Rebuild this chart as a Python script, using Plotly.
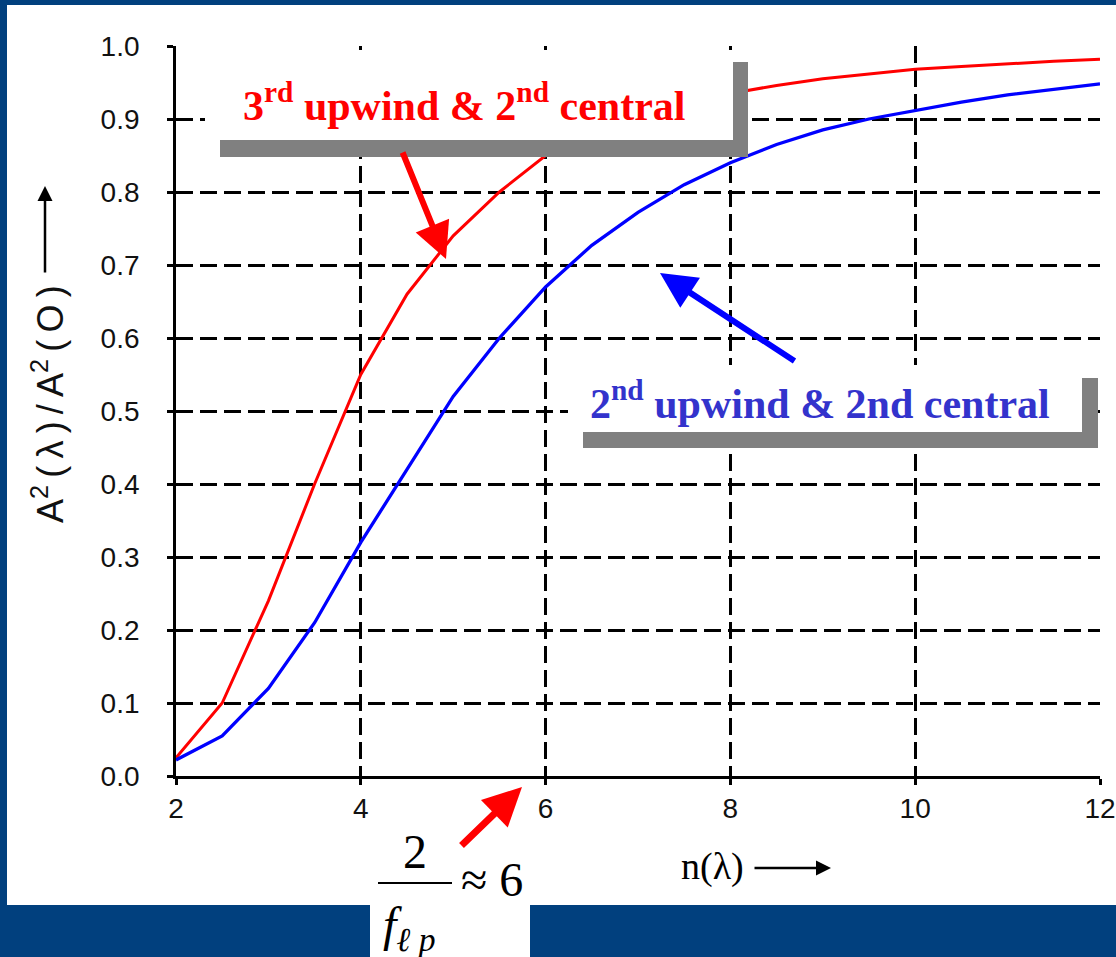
import plotly.graph_objects as go

# ---------------- data ----------------
n_lambda = [2, 2.5, 3, 3.5, 4, 4.5, 5, 5.5, 6, 6.5, 7, 7.5, 8, 8.5, 9, 9.5, 10, 10.5, 11, 11.5, 12]
third_upwind = [0.025, 0.10, 0.24, 0.40, 0.55, 0.66, 0.74, 0.80, 0.85, 0.88, 0.905, 0.922, 0.935,
                0.946, 0.955, 0.962, 0.968, 0.972, 0.976, 0.979, 0.982]
second_upwind = [0.022, 0.055, 0.12, 0.21, 0.32, 0.42, 0.52, 0.60, 0.67, 0.727, 0.772, 0.81, 0.84,
                 0.865, 0.885, 0.90, 0.912, 0.923, 0.933, 0.941, 0.948]
x_ticks = [2, 4, 6, 8, 10, 12]
x_ticktext = ["2", "4", "6", "8", "10", "12"]
y_ticks = [0.0, 0.1, 0.2, 0.3, 0.4, 0.5, 0.6, 0.7, 0.8, 0.9, 1.0]
y_ticktext = ["0.0", "0.1", "0.2", "0.3", "0.4", "0.5", "0.6", "0.7", "0.8", "0.9", "1.0"]

label_red = "3<sup>rd</sup> upwind &amp; 2<sup>nd</sup> central"
label_blue = "2<sup>nd</sup> upwind &amp; 2nd central"

# ---------------- layout geometry (pixels) ----------------
W, H = 1116, 957
L, R, T, B = 176, 1100, 46, 776
PW, PH = R - L, B - T

def xp(px):
    return (px - L) / PW

def yp(py):
    return (B - py) / PH

BLUE_BG = "#01407E"
GRAY = "#808080"
SERIF = "Liberation Serif, Times New Roman, serif"
SANS = "Liberation Sans, Arial, sans-serif"

fig = go.Figure()
fig.add_trace(go.Scatter(x=n_lambda, y=third_upwind, mode="lines",
                         line=dict(color="#FF0000", width=3), showlegend=False))
fig.add_trace(go.Scatter(x=n_lambda, y=second_upwind, mode="lines",
                         line=dict(color="#0000FF", width=3.3), showlegend=False))

shapes = []
# white panel
shapes.append(dict(type="rect", xref="paper", yref="paper", layer="below",
                   x0=xp(7), x1=xp(W + 5), y0=yp(905), y1=yp(5),
                   fillcolor="white", line=dict(width=0)))
shapes.append(dict(type="rect", xref="paper", yref="paper", layer="below",
                   x0=xp(370), x1=xp(530), y0=yp(H + 5), y1=yp(900),
                   fillcolor="white", line=dict(width=0)))
# label box 1 (shadow + white)
shapes.append(dict(type="rect", xref="paper", yref="paper", layer="above",
                   x0=xp(220), x1=xp(748), y0=yp(157), y1=yp(62),
                   fillcolor=GRAY, line=dict(width=0)))
shapes.append(dict(type="rect", xref="paper", yref="paper", layer="above",
                   x0=xp(205), x1=xp(733), y0=yp(140), y1=yp(50),
                   fillcolor="white", line=dict(width=0)))
# label box 2
shapes.append(dict(type="rect", xref="paper", yref="paper", layer="above",
                   x0=xp(583), x1=xp(1098), y0=yp(448), y1=yp(378),
                   fillcolor=GRAY, line=dict(width=0)))
shapes.append(dict(type="rect", xref="paper", yref="paper", layer="above",
                   x0=xp(568), x1=xp(1082), y0=yp(432), y1=yp(365),
                   fillcolor="white", line=dict(width=0)))
# fraction bar
shapes.append(dict(type="line", xref="paper", yref="paper", layer="above",
                   x0=xp(378), x1=xp(452), y0=yp(883), y1=yp(883),
                   line=dict(color="black", width=2)))

annotations = []
# box texts
annotations.append(dict(xref="paper", yref="paper", x=xp(464), y=yp(103), text=label_red,
                        showarrow=False, xanchor="center", yanchor="middle",
                        font=dict(family=SERIF, size=42, color="#FF0000", weight="bold")))
annotations.append(dict(xref="paper", yref="paper", x=xp(820), y=yp(400), text=label_blue,
                        showarrow=False, xanchor="center", yanchor="middle",
                        font=dict(family=SERIF, size=42, color="#3333CC", weight="bold")))
# arrows
annotations.append(dict(xref="paper", yref="paper", x=xp(446), y=yp(259), ax=-44, ay=-108,
                        axref="pixel", ayref="pixel", text="", showarrow=True,
                        arrowhead=2, arrowwidth=6, arrowsize=1.2, arrowcolor="#FF0000"))
annotations.append(dict(xref="paper", yref="paper", x=xp(660), y=yp(273), ax=136, ay=89,
                        axref="pixel", ayref="pixel", text="", showarrow=True,
                        arrowhead=2, arrowwidth=6, arrowsize=1.2, arrowcolor="#0000FF"))
annotations.append(dict(xref="paper", yref="paper", x=xp(522), y=yp(787), ax=-62, ay=60,
                        axref="pixel", ayref="pixel", text="", showarrow=True,
                        arrowhead=2, arrowwidth=7, arrowsize=1.1, arrowcolor="#FF0000"))
# fraction 2 / f_lp ≈ 6
annotations.append(dict(xref="paper", yref="paper", x=xp(415), y=yp(851), text="2",
                        showarrow=False, xanchor="center", yanchor="middle",
                        font=dict(family=SERIF, size=48, color="black")))
annotations.append(dict(xref="paper", yref="paper", x=xp(459), y=yp(879), text="≈ 6",
                        showarrow=False, xanchor="left", yanchor="middle",
                        font=dict(family=SERIF, size=48, color="black")))
annotations.append(dict(xref="paper", yref="paper", x=xp(381), y=yp(928),
                        text="<i>f</i><sub><i>ℓ p</i></sub>",
                        showarrow=False, xanchor="left", yanchor="middle",
                        font=dict(family=SERIF, size=48, color="black")))
# x axis title
annotations.append(dict(xref="paper", yref="paper", x=xp(712), y=yp(866), text="n(λ)",
                        showarrow=False, xanchor="center", yanchor="middle",
                        font=dict(family=SERIF, size=38, color="black")))
annotations.append(dict(xref="paper", yref="paper", x=xp(831), y=yp(868), ax=-78, ay=0,
                        axref="pixel", ayref="pixel", text="", showarrow=True,
                        arrowhead=2, arrowwidth=2.5, arrowsize=1.2, arrowcolor="black"))
# y axis title
ytitle = "A<sup>2</sup>\u2009(\u2009λ\u2009)\u2009/\u2009A<sup>2</sup>\u2009(\u2009O\u2009)"
annotations.append(dict(xref="paper", yref="paper", x=xp(48), y=yp(404), text=ytitle,
                        showarrow=False, textangle=-90, xanchor="center", yanchor="middle",
                        font=dict(family=SANS, size=36, color="#111111")))
annotations.append(dict(xref="paper", yref="paper", x=xp(45), y=yp(186), ax=0, ay=88,
                        axref="pixel", ayref="pixel", text="", showarrow=True,
                        arrowhead=2, arrowwidth=2.5, arrowsize=1.2, arrowcolor="black"))

fig.update_layout(
    width=W, height=H,
    margin=dict(l=L, r=W - R, t=T, b=H - B, pad=0, autoexpand=False),
    paper_bgcolor=BLUE_BG,
    plot_bgcolor="rgba(0,0,0,0)",
    shapes=shapes,
    annotations=annotations,
    showlegend=False,
)
fig.update_xaxes(range=[2, 12], tickvals=x_ticks, ticktext=x_ticktext,
                 showgrid=True, gridcolor="black", gridwidth=2.7, griddash="17px,7px",
                 showline=True, linecolor="black", linewidth=2.7, mirror=False,
                 ticks="outside", ticklen=6, tickwidth=2.5, tickcolor="black",
                 zeroline=False, ticklabelstandoff=0, automargin=False,
                 tickfont=dict(family=SANS, size=28, color="#111111"))
fig.update_yaxes(range=[0, 1], tickvals=y_ticks, ticktext=y_ticktext,
                 showgrid=True, gridcolor="black", gridwidth=2.7, griddash="17px,7px",
                 showline=True, linecolor="black", linewidth=2.7, mirror=False,
                 ticks="outside", ticklen=6, tickwidth=2.5, tickcolor="black",
                 zeroline=False, ticklabelstandoff=22, automargin=False,
                 tickfont=dict(family=SANS, size=28, color="#111111"))

fig.write_html("out.html")
